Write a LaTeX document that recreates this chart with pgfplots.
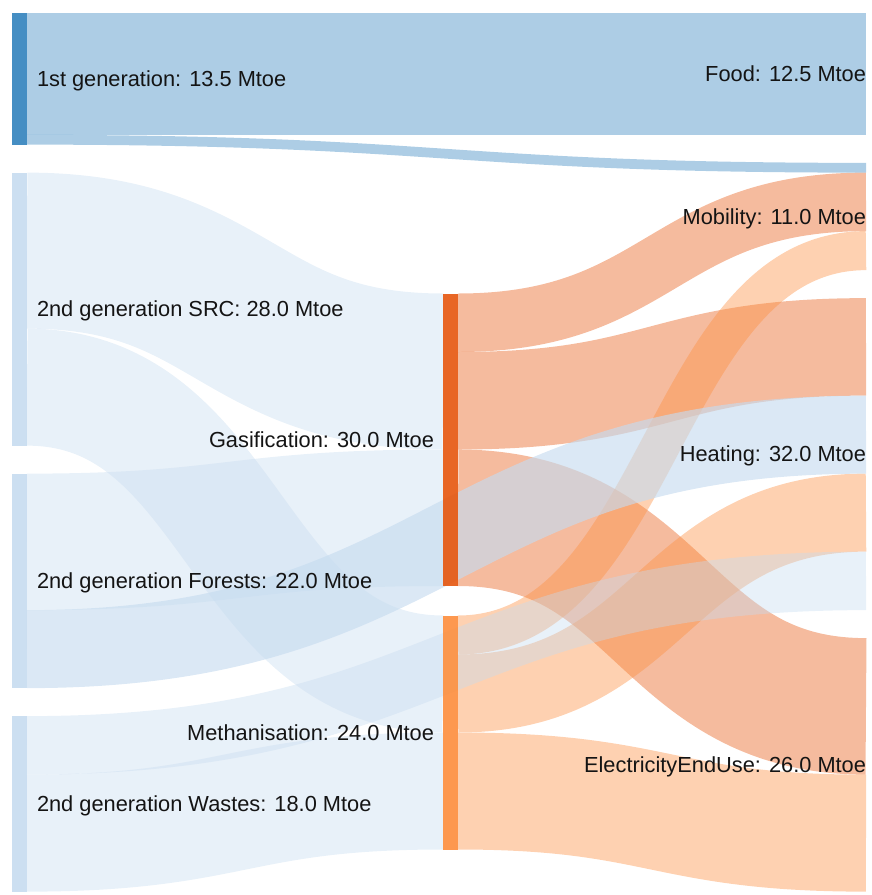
\documentclass[border=0pt]{standalone}
\usepackage{pgfplots}
\pgfplotsset{compat=1.18}
\usepackage{fontspec}
\setmainfont{Liberation Sans}
\definecolor{b1}{HTML}{3182BD}
\definecolor{b4}{HTML}{C6DBEF}
\definecolor{o1}{HTML}{E6550D}
\definecolor{o2}{HTML}{FD8D3C}
\definecolor{txt}{RGB}{20,20,20}
% link: x0, y0 (band centre at source), xm (control x), x1, y1 (band centre at target), value (Mtoe), colour, opacity
\newcommand\lnk[8]{%
  \draw[draw=#7, draw opacity=#8, line width=#6*4.875pt]
    (axis cs:#1,#2) .. controls (axis cs:#3,#2) and (axis cs:#3,#5) .. (axis cs:#4,#5);}
% node bar: x0, x1, ytop, ybottom, colour
\newcommand\nd[5]{%
  \addplot[fill=#5, fill opacity=0.9, draw=none] coordinates {(#1,#3) (#2,#3) (#2,#4) (#1,#4)} -- cycle;}
\tikzset{lbl/.style={font=\fontsize{10.9}{13}\selectfont, text=txt, inner sep=0pt, outer sep=0pt}}
\begin{document}
\begin{tikzpicture}
\begin{axis}[
  x=0.5pt, y=0.5pt, y dir=reverse,
  xmin=0, xmax=872, ymin=0, ymax=895,
  hide axis, clip=false,
]
% links (values in Mtoe)
\lnk{458}{322.75}{662}{866}{201.875}{6}{o1}{0.4}
\lnk{458}{400.75}{662}{866}{346.875}{10}{o1}{0.4}
\lnk{458}{517.75}{662}{866}{706.375}{14}{o1}{0.4}
\lnk{458}{635}{662}{866}{250.625}{4}{o2}{0.4}
\lnk{458}{693.5}{662}{866}{512.625}{8}{o2}{0.4}
\lnk{458}{791}{662}{866}{833.125}{12}{o2}{0.4}
\lnk{27}{73.94}{446.5}{866}{73.94}{12.5}{b1}{0.4}
\lnk{27}{139.75}{446.5}{866}{167.75}{1.0}{b1}{0.4}
\lnk{27}{250.625}{235}{443}{371.5}{16}{b4}{0.4}
\lnk{27}{387.125}{235}{443}{674}{12}{b4}{0.4}
\lnk{27}{541.875}{235}{443}{517.75}{14}{b4}{0.4}
\lnk{27}{649.125}{446.5}{866}{434.625}{8}{b4}{0.64}
\lnk{27}{745.375}{446.5}{866}{580.875}{6}{b4}{0.4}
\lnk{27}{833.125}{235}{443}{791}{12}{b4}{0.4}
% nodes
\nd{12}{27}{13}{144.625}{b1}
\nd{12}{27}{172.625}{445.625}{b4}
\nd{12}{27}{473.625}{688.125}{b4}
\nd{12}{27}{716.125}{891.625}{b4}
\nd{443}{458}{293.5}{586}{o1}
\nd{443}{458}{615.5}{849.5}{o2}
% labels
\node[lbl, anchor=base west] at (axis cs:37,86.5) {1st generation: 13.5 Mtoe};
\node[lbl, anchor=base west] at (axis cs:37,316.7) {2nd generation SRC: 28.0 Mtoe};
\node[lbl, anchor=base west] at (axis cs:37,588.5) {2nd generation Forests: 22.0 Mtoe};
\node[lbl, anchor=base west] at (axis cs:37,811.5) {2nd generation Wastes: 18.0 Mtoe};
\node[lbl, anchor=base east] at (axis cs:434,447.4) {Gasification: 30.0 Mtoe};
\node[lbl, anchor=base east] at (axis cs:434,740.1) {Methanisation: 24.0 Mtoe};
\node[lbl, anchor=base east] at (axis cs:866,81.6) {Food: 12.5 Mtoe};
\node[lbl, anchor=base east] at (axis cs:866,224.1) {Mobility: 11.0 Mtoe};
\node[lbl, anchor=base east] at (axis cs:866,461.7) {Heating: 32.0 Mtoe};
\node[lbl, anchor=base east] at (axis cs:866,772.5) {ElectricityEndUse: 26.0 Mtoe};
\end{axis}
\pgfresetboundingbox
\path (current axis.south west) rectangle (current axis.north east);
\end{tikzpicture}
\end{document}
